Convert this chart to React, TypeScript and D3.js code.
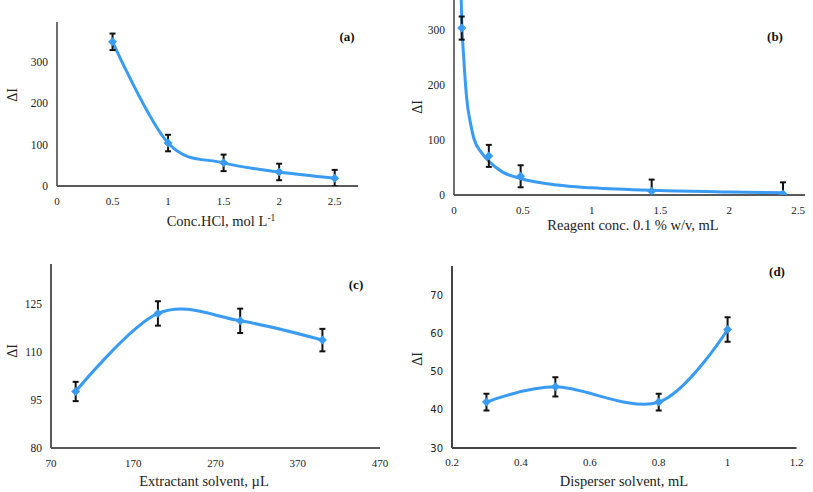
import React from "react";
import * as d3 from "d3";

// ---------- data ----------
// (a) HCl concentration
const hclConc = [0.5, 1, 1.5, 2, 2.5];
const hclDI = [349, 104, 56, 34, 19];
const hclErr = [20, 20, 20, 20, 20];
const hclXTicks = [0, 0.5, 1, 1.5, 2, 2.5];
const hclYTicks = [0, 100, 200, 300];

// (b) Reagent volume
const reagentVol = [0.056, 0.253, 0.484, 1.436, 2.39];
const reagentDI = [303, 71, 34, 7, 2];
const reagentErr = [21, 20, 20, 21, 21];
// fitted trend curve
const reagentTrendX = [0.05, 0.056, 0.07, 0.092, 0.12, 0.144, 0.2, 0.25, 0.35, 0.484, 0.75, 1, 1.5, 2, 2.4];
const reagentTrendY = [380, 318, 252, 176, 130, 103, 77, 62, 42, 30, 18, 13, 8, 5.5, 4];
const reagentXTicks = [0, 0.5, 1, 1.5, 2, 2.5];
const reagentYTicks = [0, 100, 200, 300];

// (c) Extractant solvent
const extVol = [100, 200, 300, 400];
const extDI = [97.6, 121.9, 119.6, 113.6];
const extErr = [3, 3.8, 3.8, 3.5];
const extXTicks = [70, 170, 270, 370, 470];
const extYTicks = [80, 95, 110, 125];

// (d) Disperser solvent
const dispVol = [0.3, 0.5, 0.8, 1.0];
const dispDI = [42, 46, 42, 61];
const dispErr = [2.2, 2.5, 2.2, 3.2];
const dispXTicks = [0.2, 0.4, 0.6, 0.8, 1, 1.2];
const dispYTicks = [30, 40, 50, 60, 70];

const BLUE = "#3a9bf2";
const SERIF = "'Liberation Serif', 'Times New Roman', serif";
const SANS = "'DejaVu Sans', Verdana, sans-serif";

type PanelProps = {
  id: string;
  xs: number[];
  ys: number[];
  errs: number[];
  trendX?: number[];
  trendY?: number[];
  xDomain: [number, number];
  xRange: [number, number];
  yDomain: [number, number];
  yRange: [number, number];
  xTicks: number[];
  yTicks: number[];
  xTickY: number;
  xTitle: React.ReactNode;
  xTitleX: number;
  xTitleY: number;
  yTitleX: number;
  yTitleY: number;
  tag: string;
  tagX: number;
  tagY: number;
  xAxisColor: string;
  xAxisWidth: number;
  yAxisColor: string;
  yAxisWidth: number;
  yTickFont: string;
  yTickSize: number;
};

function Panel(p: PanelProps) {
  const x = d3.scaleLinear().domain(p.xDomain).range(p.xRange);
  const y = d3.scaleLinear().domain(p.yDomain).range(p.yRange);
  const pts: [number, number][] = p.xs.map((v, i) => [x(v), y(p.ys[i])]);
  let linePath: string | null;
  if (p.trendX && p.trendY) {
    const tp: [number, number][] = p.trendX.map((v, i) => [x(v), y(p.trendY![i])]);
    linePath = d3.line().curve(d3.curveMonotoneX)(tp);
  } else {
    linePath = d3.line().curve(d3.curveCardinal.tension(0))(pts);
  }
  const x0 = p.xRange[0];
  const x1 = p.xRange[1];
  const yb = p.yRange[0];
  const yt = p.yRange[1];
  const clipId = "clip-" + p.id;
  const r = 4.5;
  return (
    <g>
      <defs>
        <clipPath id={clipId}>
          <rect x={x0} y={yt} width={x1 - x0 + 10} height={yb - yt} />
        </clipPath>
      </defs>
      {p.yTicks.map((t) => (
        <text
          key={"y" + t}
          x={x0 - 9}
          y={y(t)}
          dy="0.35em"
          textAnchor="end"
          fontFamily={p.yTickFont}
          fontSize={p.yTickSize}
          fill="#222"
        >
          {t}
        </text>
      ))}
      {p.xTicks.map((t) => (
        <text
          key={"x" + t}
          x={x(t)}
          y={p.xTickY}
          textAnchor="middle"
          fontFamily={SERIF}
          fontSize={11}
          fill="#222"
        >
          {t}
        </text>
      ))}
      <line x1={x0} x2={x0} y1={yt} y2={yb} stroke={p.yAxisColor} strokeWidth={p.yAxisWidth} />
      <line x1={x0} x2={x1} y1={yb} y2={yb} stroke={p.xAxisColor} strokeWidth={p.xAxisWidth} />
      <g clipPath={`url(#${clipId})`}>
        {linePath && <path d={linePath} fill="none" stroke={BLUE} strokeWidth={3} />}
        {p.xs.map((v, i) => {
          const cx = x(v);
          const top = y(p.ys[i] + p.errs[i]);
          const bot = y(p.ys[i] - p.errs[i]);
          return (
            <g key={"e" + i} stroke="#111" strokeWidth={2}>
              <line x1={cx} x2={cx} y1={top} y2={bot} />
              <line x1={cx - 3} x2={cx + 3} y1={top} y2={top} />
              <line x1={cx - 3} x2={cx + 3} y1={bot} y2={bot} />
            </g>
          );
        })}
        {pts.map(([cx, cy], i) => (
          <path
            key={"m" + i}
            d={`M${cx},${cy - r}L${cx + r},${cy}L${cx},${cy + r}L${cx - r},${cy}Z`}
            fill={BLUE}
          />
        ))}
      </g>
      <text
        x={p.xTitleX}
        y={p.xTitleY}
        textAnchor="middle"
        fontFamily={SERIF}
        fontSize={14.5}
        fill="#222"
      >
        {p.xTitle}
      </text>
      <text
        transform={`translate(${p.yTitleX},${p.yTitleY}) rotate(-90)`}
        textAnchor="middle"
        dy="0.35em"
        fontFamily={SERIF}
        fontSize={14}
        fill="#222"
      >
        ΔI
      </text>
      <text
        x={p.tagX}
        y={p.tagY}
        textAnchor="middle"
        fontFamily={SERIF}
        fontWeight="bold"
        fontSize={13}
        fill="#111"
      >
        {p.tag}
      </text>
    </g>
  );
}

export default function App() {
  return (
    <svg
      width={813}
      height={492}
      style={{ position: "absolute", left: 0, top: 0, background: "#fff" }}
    >
      <rect width={813} height={492} fill="#fff" />
      <Panel
        id="a"
        xs={hclConc}
        ys={hclDI}
        errs={hclErr}
        xDomain={[0, 2.71]}
        xRange={[57, 358]}
        yDomain={[0, 397]}
        yRange={[186, 22]}
        xTicks={hclXTicks}
        yTicks={hclYTicks}
        xTickY={205}
        xTitle={
          <>
            Conc.HCl, mol L
            <tspan fontSize={9.5} dy={-5}>
              -1
            </tspan>
          </>
        }
        xTitleX={221}
        xTitleY={226}
        yTitleX={12}
        yTitleY={95}
        tag="(a)"
        tagX={347}
        tagY={41}
        xAxisColor="#595959"
        xAxisWidth={2}
        yAxisColor="#111"
        yAxisWidth={1.2}
        yTickFont={SERIF}
        yTickSize={11.5}
      />
      <Panel
        id="b"
        xs={reagentVol}
        ys={reagentDI}
        errs={reagentErr}
        trendX={reagentTrendX}
        trendY={reagentTrendY}
        xDomain={[0, 2.55]}
        xRange={[454, 805]}
        yDomain={[0, 354]}
        yRange={[195, 0]}
        xTicks={reagentXTicks}
        yTicks={reagentYTicks}
        xTickY={214}
        xTitle="Reagent conc. 0.1 % w/v, mL"
        xTitleX={633}
        xTitleY={230}
        yTitleX={417}
        yTitleY={107}
        tag="(b)"
        tagX={775}
        tagY={41}
        xAxisColor="#222"
        xAxisWidth={1.6}
        yAxisColor="#222"
        yAxisWidth={1.3}
        yTickFont={SERIF}
        yTickSize={11.5}
      />
      <Panel
        id="c"
        xs={extVol}
        ys={extDI}
        errs={extErr}
        xDomain={[70, 470]}
        xRange={[51, 380]}
        yDomain={[80, 137.3]}
        yRange={[448, 264]}
        xTicks={extXTicks}
        yTicks={extYTicks}
        xTickY={467}
        xTitle="Extractant solvent, µL"
        xTitleX={204}
        xTitleY={486}
        yTitleX={12}
        yTitleY={351}
        tag="(c)"
        tagX={356}
        tagY={289}
        xAxisColor="#595959"
        xAxisWidth={2}
        yAxisColor="#595959"
        yAxisWidth={2}
        yTickFont={SERIF}
        yTickSize={11.5}
      />
      <Panel
        id="d"
        xs={dispVol}
        ys={dispDI}
        errs={dispErr}
        xDomain={[0.2, 1.2]}
        xRange={[452, 796.5]}
        yDomain={[30, 77.6]}
        yRange={[448, 266]}
        xTicks={dispXTicks}
        yTicks={dispYTicks}
        xTickY={466}
        xTitle="Disperser solvent, mL"
        xTitleX={624}
        xTitleY={486}
        yTitleX={417}
        yTitleY={359}
        tag="(d)"
        tagX={777}
        tagY={276}
        xAxisColor="#444"
        xAxisWidth={2}
        yAxisColor="#444"
        yAxisWidth={2}
        yTickFont={SANS}
        yTickSize={10}
      />
    </svg>
  );
}
